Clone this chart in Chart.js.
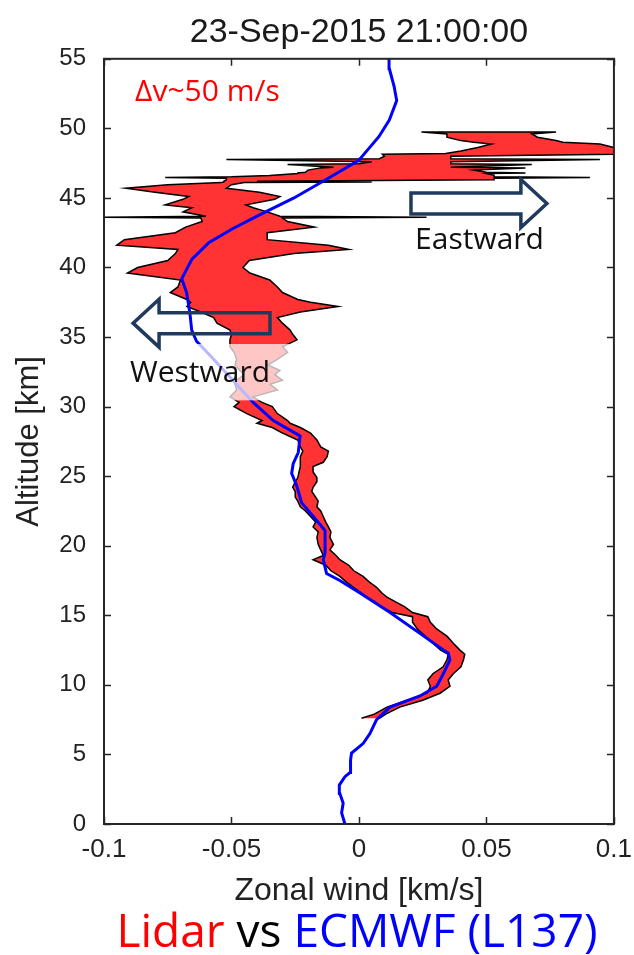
<!DOCTYPE html>
<html>
<head>
<meta charset="utf-8">
<title>Lidar vs ECMWF zonal wind</title>
<script src="https://cdn.jsdelivr.net/npm/chart.js@4.4.1/dist/chart.umd.min.js"></script>
<style>
  html, body { margin: 0; padding: 0; background: #fff; }
  #wrap { width: 634px; height: 955px; position: relative; }
</style>
</head>
<body>
<div id="wrap"><canvas id="profile"></canvas></div>
<script>
// ECMWF (L137) zonal wind, km/s, against altitude in km
const ecmwfAlt = [0, 0.8, 1.5, 2.2, 2.8, 3.4, 3.7, 4.6, 5.1, 5.6, 5.8, 6.5, 7.5, 8.4, 9.2, 9.9, 10.8, 11.8, 12.3, 12.5,
  13.7, 15.2, 16.6, 17.5, 18.0, 19.0, 19.5, 21.1, 22.1, 23.1, 24.3, 25.2, 25.9, 26.7, 27.9, 29.0, 30.3, 31.5, 32.5, 33.6,
  34.7, 35.5, 36.7, 38.2, 39.2, 40.6, 41.8, 42.8, 43.8, 45.0, 46.4, 47.7, 49.4, 50.6, 52.0, 53.0, 54.3, 55.0];
const ecmwfWind = [-0.0055, -0.0068, -0.0062, -0.0075, -0.0077, -0.0055, -0.0035, -0.0033, -0.0029, 0.0004, 0.0017, 0.0043,
  0.0069, 0.0122, 0.0239, 0.0305, 0.0331, 0.0357, 0.035, 0.0331, 0.0239, 0.0122, 0.0004, -0.0075, -0.0127, -0.014, -0.0133,
  -0.0133, -0.0179, -0.0225, -0.0244, -0.0264, -0.0258, -0.0238, -0.0231, -0.0336, -0.0415, -0.0475, -0.0525, -0.058,
  -0.0637, -0.0656, -0.0663, -0.0676, -0.0695, -0.0655, -0.0588, -0.0494, -0.0388, -0.0255, -0.0122, -0.0001, 0.0078,
  0.0119, 0.0148, 0.0138, 0.0119, 0.0118];

// Lidar zonal wind envelope: west and east edge of the red band, km/s
const lidarAlt = [7.6, 7.9, 8.4, 8.9, 9.4, 9.9, 10.35, 10.8, 11.3, 11.8, 12.2, 12.5, 13.0, 13.5, 14.0, 14.5, 14.9, 15.2,
  15.6, 16.0, 16.3, 16.6, 17.0, 17.4, 17.8, 18.2, 18.6, 19.0, 19.3, 19.7, 20.1, 20.6, 21.0, 21.35, 21.7, 22.1, 22.5, 22.8,
  23.2, 23.5, 23.9, 24.2, 24.6, 24.9, 25.3, 25.7, 26.0, 26.4, 26.8, 27.1, 27.6, 28.1, 28.5, 28.8, 29.0, 29.5, 30.0, 30.3,
  30.7, 31.2, 31.6, 31.9, 32.3, 32.6, 33.0, 33.4, 33.9, 34.3, 34.8, 35.2, 35.5, 36.0, 36.4, 36.8, 37.2, 37.5, 37.7, 38.2,
  38.6, 39.1, 39.6, 40.0, 40.5, 41.0, 41.3, 41.6, 42.0, 42.5, 42.9, 43.3, 43.55, 43.62, 43.68, 44.0, 44.3, 44.5, 44.9,
  45.1, 45.4, 45.7, 45.95, 46.1, 46.15, 46.2, 46.3, 46.42, 46.47, 46.52, 46.62, 46.75, 46.79, 46.84, 47.0, 47.16, 47.2,
  47.4, 47.45, 47.6, 47.77, 47.82, 48.0, 48.14, 48.2, 48.38, 48.63, 48.87, 49.0, 49.12, 49.36, 49.6, 49.73];
const lidarWest = [0.001, 0.006, 0.011, 0.019, 0.0267, 0.028, 0.027, 0.029, 0.033, 0.0345, 0.035, 0.032, 0.029, 0.026,
  0.023, 0.021, 0.021, 0.013, 0.009, 0.006, 0.003, 0.001, -0.002, -0.005, -0.0075, -0.011, -0.013, -0.018, -0.014, -0.015,
  -0.016, -0.0165, -0.016, -0.018, -0.017, -0.019, -0.021, -0.023, -0.024, -0.025, -0.025, -0.026, -0.025, -0.024,
  -0.0235, -0.023, -0.023, -0.023, -0.022, -0.023, -0.024, -0.030, -0.034, -0.040, -0.038, -0.044, -0.049, -0.047,
  -0.0506, -0.048, -0.0486, -0.048, -0.045, -0.0467, -0.0486, -0.048, -0.049, -0.0506, -0.0506, -0.050, -0.0506, -0.0557,
  -0.057, -0.062, -0.0675, -0.066, -0.0675, -0.074, -0.071, -0.070, -0.0908, -0.0868, -0.075, -0.072, -0.071, -0.095,
  -0.092, -0.072, -0.068, -0.0615, -0.062, -0.100, -0.060, -0.069, -0.0655, -0.076, -0.069, -0.0668, -0.080, -0.0915,
  -0.075, -0.054, -0.053, -0.053, -0.052, -0.052, -0.076, -0.050, -0.035, -0.024, -0.024, -0.021, -0.020, -0.015, -0.010,
  -0.028, 0.000, 0.005, -0.052, 0.008, 0.010, 0.0092, 0.034, 0.040, 0.0466, 0.0519, 0.045, 0.0399, 0.0345, 0.0345, 0.0245];
const lidarEast = [0.008, 0.0105, 0.016, 0.025, 0.0318, 0.0357, 0.035, 0.037, 0.040, 0.041, 0.0415, 0.0396, 0.037, 0.0345,
  0.0306, 0.028, 0.027, 0.021, 0.018, 0.014, 0.011, 0.009, 0.007, 0.004, 0.0016, -0.002, -0.004, -0.0075, -0.009, -0.0114,
  -0.010, -0.0114, -0.011, -0.012, -0.013, -0.014, -0.015, -0.0165, -0.016, -0.017, -0.0185, -0.018, -0.0165, -0.0165,
  -0.018, -0.018, -0.014, -0.0125, -0.012, -0.015, -0.0165, -0.019, -0.023, -0.027, -0.028, -0.032, -0.034, -0.038,
  -0.0416, -0.032, -0.0349, -0.030, -0.033, -0.031, -0.0357, -0.032, -0.028, -0.030, -0.0243, -0.026, -0.027, -0.030,
  -0.032, -0.023, -0.0082, -0.019, -0.024, -0.030, -0.032, -0.035, -0.0428, -0.0455, -0.043, -0.0255, -0.004, -0.012,
  -0.036, -0.036, -0.0175, -0.028, -0.030, 0.0265, -0.031, -0.036, -0.0415, -0.0443, -0.033, -0.031, -0.039, -0.052,
  -0.050, -0.045, 0.005, -0.040, 0.053, 0.053, 0.0906, 0.053, 0.053, 0.050, 0.0653, 0.050, 0.045, 0.0653, 0.036, 0.0678,
  0.036, 0.036, 0.0945, 0.036, 0.036, 0.100, 0.100, 0.100, 0.100, 0.0945, 0.080, 0.0773, 0.070, 0.0678, 0.0773];

const xTickValues = [-0.1, -0.05, 0, 0.05, 0.1];
const xTickLabels = ['-0.1', '-0.05', '0', '0.05', '0.1'];
const yTickValues = [0, 5, 10, 15, 20, 25, 30, 35, 40, 45, 50, 55];
const yTickLabels = ['0', '5', '10', '15', '20', '25', '30', '35', '40', '45', '50', '55'];

// annotations, in wind / altitude units
const eastArrow = { from: 0.0204, to: 0.0737, alt: 44.6 };
const westArrow = { from: -0.0349, to: -0.0886, alt: 36.0 };
const textBox = { west: -0.0918, east: -0.023, bottom: 30.45, top: 34.5 };

const ecmwfPoints = ecmwfAlt.map((a, i) => ({ x: ecmwfWind[i], y: a }));
// closed outline: up the west edge, back down the east edge
const lidarOutline = lidarAlt.map((a, i) => ({ x: lidarWest[i], y: a }))
  .concat(lidarAlt.map((a, i) => ({ x: lidarEast[i], y: a })).reverse());

const ink = '#222222';
const axisFont = 'Liberation Sans, Arial, sans-serif';
const noteFont = '"Open Sans", sans-serif';

function blockArrow(ctx, x0, x1, yc) {
  const hs = 10.5, hh = 24;
  const xb = x1 - 26 * Math.sign(x1 - x0);
  ctx.beginPath();
  ctx.moveTo(x0, yc - hs);
  ctx.lineTo(xb, yc - hs);
  ctx.lineTo(xb, yc - hh);
  ctx.lineTo(x1, yc);
  ctx.lineTo(xb, yc + hh);
  ctx.lineTo(xb, yc + hs);
  ctx.lineTo(x0, yc + hs);
  ctx.closePath();
  ctx.stroke();
}

const matlabFrame = {
  id: 'matlabFrame',
  afterDraw(chart) {
    const { ctx, chartArea: a, scales: { x, y } } = chart;
    ctx.save();

    // half-transparent box behind the "Westward" label
    ctx.fillStyle = 'rgba(255,255,255,0.72)';
    const bx0 = x.getPixelForValue(textBox.west), bx1 = x.getPixelForValue(textBox.east);
    const by0 = y.getPixelForValue(textBox.top), by1 = y.getPixelForValue(textBox.bottom);
    ctx.fillRect(bx0, by0, bx1 - bx0, by1 - by0);

    // box and inward ticks on all four sides
    ctx.strokeStyle = '#262626';
    ctx.lineWidth = 2;
    ctx.strokeRect(a.left, a.top, a.right - a.left, a.bottom - a.top);
    ctx.lineWidth = 1.5;
    ctx.beginPath();
    xTickValues.forEach(v => {
      const px = Math.round(x.getPixelForValue(v)) + 0.5;
      ctx.moveTo(px, a.bottom); ctx.lineTo(px, a.bottom - 7);
      ctx.moveTo(px, a.top); ctx.lineTo(px, a.top + 7);
    });
    yTickValues.forEach(v => {
      const py = Math.round(y.getPixelForValue(v)) + 0.5;
      ctx.moveTo(a.left, py); ctx.lineTo(a.left + 7, py);
      ctx.moveTo(a.right, py); ctx.lineTo(a.right - 7, py);
    });
    ctx.stroke();

    // arrows
    ctx.strokeStyle = '#1f3a5c';
    ctx.lineWidth = 3.5;
    ctx.lineJoin = 'miter';
    blockArrow(ctx, x.getPixelForValue(eastArrow.from), x.getPixelForValue(eastArrow.to), y.getPixelForValue(eastArrow.alt));
    blockArrow(ctx, x.getPixelForValue(westArrow.from), x.getPixelForValue(westArrow.to), y.getPixelForValue(westArrow.alt));

    // notes
    ctx.textBaseline = 'alphabetic';
    ctx.textAlign = 'left';
    ctx.font = '30px ' + noteFont;
    ctx.fillStyle = '#ff0000';
    ctx.fillText('\u0394v~50 m/s', x.getPixelForValue(-0.0878), y.getPixelForValue(51.98));
    ctx.fillStyle = '#111111';
    ctx.fillText('Eastward', x.getPixelForValue(0.022), y.getPixelForValue(41.3));
    ctx.fillText('Westward', x.getPixelForValue(-0.0898), y.getPixelForValue(31.8));

    // caption under the figure
    const parts = [['Lidar', '#ff0000'], [' vs ', '#000000'], ['ECMWF (L137)', '#0000ff']];
    ctx.font = '46px ' + noteFont;
    const total = parts.reduce((w, p) => w + ctx.measureText(p[0]).width, 0);
    let cx = 357 - total / 2;
    parts.forEach(([t, c]) => {
      ctx.fillStyle = c;
      ctx.fillText(t, cx, 947);
      cx += ctx.measureText(t).width;
    });
    ctx.restore();
  }
};

new Chart(document.getElementById('profile'), {
  type: 'line',
  data: {
    datasets: [
      {
        label: 'ECMWF (L137)',
        data: ecmwfPoints,
        borderColor: '#0000ff',
        borderWidth: 3,
        pointRadius: 0,
        fill: false,
        tension: 0
      },
      {
        label: 'Lidar',
        data: lidarOutline,
        borderColor: '#000000',
        borderWidth: 1.5,
        backgroundColor: '#ff3333',
        fill: 'shape',
        pointRadius: 0,
        tension: 0
      }
    ]
  },
  options: {
    indexAxis: 'y',
    responsive: true,
    maintainAspectRatio: false,
    animation: false,
    devicePixelRatio: 1,
    layout: { padding: { left: 0, right: 14, top: 0, bottom: 31 } },
    plugins: {
      legend: { display: false },
      tooltip: { enabled: false },
      title: {
        display: true,
        text: '23-Sep-2015 21:00:00',
        fullSize: false,
        color: '#1a1a1a',
        font: { family: axisFont, size: 34, weight: 'normal' },
        padding: { top: 12, bottom: 6 }
      }
    },
    scales: {
      x: {
        type: 'linear',
        position: 'bottom',
        min: -0.1,
        max: 0.1,
        grid: { display: false },
        border: { display: false },
        afterBuildTicks: s => { s.ticks = xTickValues.map(v => ({ value: v })); },
        afterFit: s => { s.height = 100; },
        ticks: {
          autoSkip: false,
          maxRotation: 0,
          padding: 2,
          color: ink,
          font: { family: axisFont, size: 26 },
          callback: (v, i) => xTickLabels[i]
        },
        title: {
          display: true,
          text: 'Zonal wind [km/s]',
          color: ink,
          font: { family: axisFont, size: 32 },
          padding: { top: 0, bottom: 14 }
        }
      },
      y: {
        type: 'linear',
        position: 'left',
        min: 0,
        max: 55,
        grid: { display: false },
        border: { display: false },
        afterBuildTicks: s => { s.ticks = yTickValues.map(v => ({ value: v })); },
        afterFit: s => { s.width = 104; },
        ticks: {
          autoSkip: false,
          padding: 10,
          color: ink,
          font: { family: axisFont, size: 24 },
          callback: (v, i) => yTickLabels[i]
        },
        title: {
          display: true,
          text: 'Altitude [km]',
          color: ink,
          font: { family: axisFont, size: 31 },
          padding: { top: 11, bottom: 0 }
        }
      }
    }
  },
  plugins: [matlabFrame]
});
</script>
</body>
</html>
